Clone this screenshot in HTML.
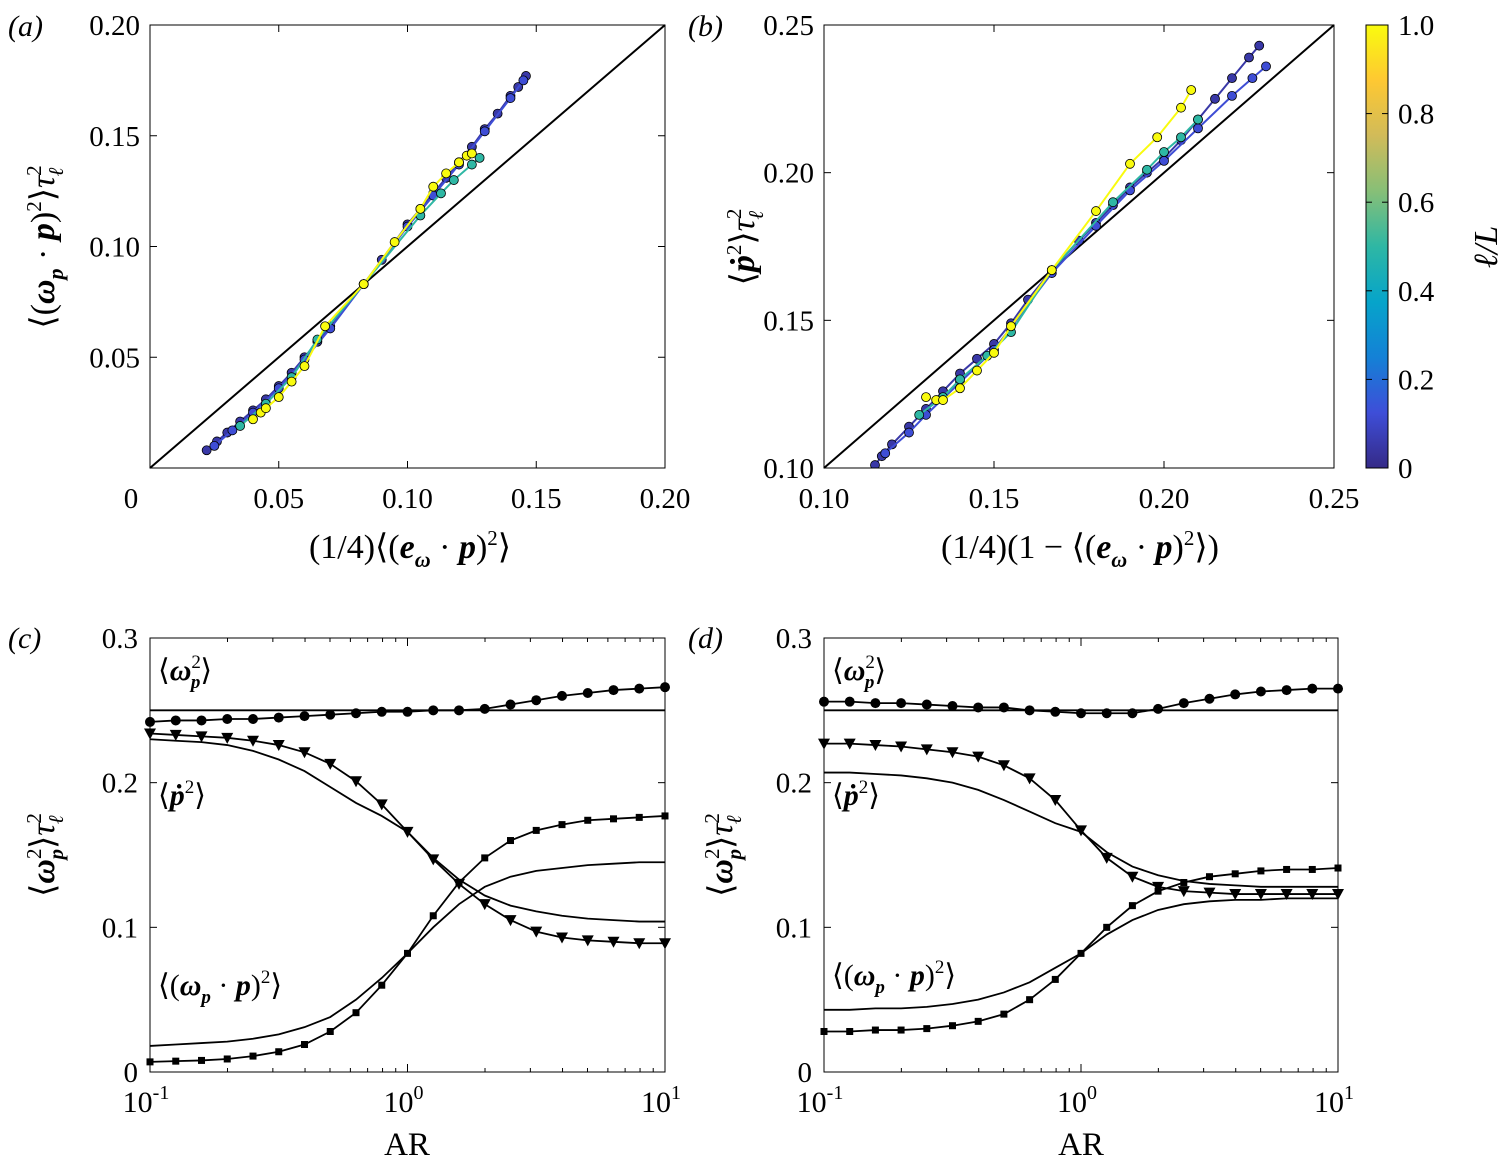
<!DOCTYPE html>
<html><head><meta charset="utf-8"><style>
body{margin:0;background:#fff}
svg{display:block;font-family:"Liberation Serif",serif}
.t{font-size:30px;fill:#000}
</style></head><body>
<svg id="c" width="1509" height="1169" viewBox="0 0 1509 1169" xmlns="http://www.w3.org/2000/svg">
<defs><linearGradient id="parula" x1="0" y1="1" x2="0" y2="0">
<stop offset="0" stop-color="#352a87"/><stop offset="0.125" stop-color="#3e4ed8"/><stop offset="0.25" stop-color="#1481d6"/><stop offset="0.375" stop-color="#06a4ca"/><stop offset="0.5" stop-color="#2eb7a4"/><stop offset="0.625" stop-color="#87bf77"/><stop offset="0.75" stop-color="#d1bb59"/><stop offset="0.875" stop-color="#fec832"/><stop offset="1" stop-color="#f9fb0e"/></linearGradient></defs>
<g class="t">
<text x="8" y="36" font-style="italic">(a)</text>
<text x="688" y="36" font-style="italic">(b)</text>
<text x="8" y="648" font-style="italic">(c)</text>
<text x="688" y="648" font-style="italic">(d)</text>
<text x="410" y="558" text-anchor="middle" font-size="34">(1/4)⟨(<tspan font-weight="bold" font-style="italic">e</tspan><tspan font-weight="bold" font-style="italic" font-size="22" dy="9">ω</tspan><tspan dy="-9"> · </tspan><tspan font-weight="bold" font-style="italic">p</tspan>)<tspan font-size="21" dy="-13">2</tspan><tspan dy="13">⟩</tspan></text>
<text x="1080" y="558" text-anchor="middle" font-size="34">(1/4)(1 − ⟨(<tspan font-weight="bold" font-style="italic">e</tspan><tspan font-weight="bold" font-style="italic" font-size="22" dy="9">ω</tspan><tspan dy="-9"> · </tspan><tspan font-weight="bold" font-style="italic">p</tspan>)<tspan font-size="21" dy="-13">2</tspan><tspan dy="13">⟩)</tspan></text>
<text transform="translate(54,247) rotate(-90)" text-anchor="middle" font-size="34">⟨(<tspan font-weight="bold" font-style="italic">ω</tspan><tspan font-weight="bold" font-style="italic" font-size="22" dy="9">p</tspan><tspan dy="-9"> · </tspan><tspan font-weight="bold" font-style="italic">p</tspan>)<tspan font-size="21" dy="-13">2</tspan><tspan dy="13">⟩</tspan><tspan font-style="italic">τ</tspan><tspan font-size="21" dy="-13">2</tspan><tspan font-size="21" font-style="italic" dx="-11" dy="22">ℓ</tspan></text>
<text transform="translate(754,247) rotate(-90)" text-anchor="middle" font-size="34">⟨<tspan font-weight="bold" font-style="italic">ṗ</tspan><tspan font-size="21" dy="-13">2</tspan><tspan dy="13">⟩</tspan><tspan font-style="italic">τ</tspan><tspan font-size="21" dy="-13">2</tspan><tspan font-size="21" font-style="italic" dx="-11" dy="22">ℓ</tspan></text>
<text transform="translate(1497,247) rotate(-90)" text-anchor="middle" font-size="34" font-style="italic">ℓ/L</text>
<text transform="translate(54,855) rotate(-90)" text-anchor="middle" font-size="34">⟨<tspan font-weight="bold" font-style="italic">ω</tspan><tspan font-size="21" dy="-13">2</tspan><tspan font-size="21" font-weight="bold" font-style="italic" dx="-11" dy="22">p</tspan><tspan dy="-9">⟩</tspan><tspan font-style="italic">τ</tspan><tspan font-size="21" dy="-13">2</tspan><tspan font-size="21" font-style="italic" dx="-11" dy="22">ℓ</tspan></text>
<text transform="translate(732,855) rotate(-90)" text-anchor="middle" font-size="34">⟨<tspan font-weight="bold" font-style="italic">ω</tspan><tspan font-size="21" dy="-13">2</tspan><tspan font-size="21" font-weight="bold" font-style="italic" dx="-11" dy="22">p</tspan><tspan dy="-9">⟩</tspan><tspan font-style="italic">τ</tspan><tspan font-size="21" dy="-13">2</tspan><tspan font-size="21" font-style="italic" dx="-11" dy="22">ℓ</tspan></text>
<text x="407" y="1155" text-anchor="middle" font-size="33">AR</text>
<text x="1081" y="1155" text-anchor="middle" font-size="33">AR</text>
</g>
<g id="plots"></g>
</svg>
<script>
const NS='http://www.w3.org/2000/svg';
const root=document.getElementById('plots');
function mk(tag,attrs,parent){const e=document.createElementNS(NS,tag);for(const k in attrs)e.setAttribute(k,attrs[k]);(parent||root).appendChild(e);return e;}
function txt(s,x,y,anchor,parent,size){const e=mk('text',{x:x,y:y,'text-anchor':anchor||'middle','font-size':size||29},parent);e.textContent=s;return e;}

// ---------- data ----------
const arValues=[0.1,0.1259,0.1585,0.1995,0.2512,0.3162,0.3981,0.5012,0.631,0.7943,1,1.259,1.585,1.995,2.512,3.162,3.981,5.012,6.31,7.943,10];
const cCircles=[0.242,0.243,0.243,0.244,0.244,0.245,0.246,0.247,0.248,0.249,0.249,0.250,0.250,0.251,0.254,0.257,0.260,0.262,0.264,0.265,0.266];
const cFlat=[0.25,0.25,0.25,0.25,0.25,0.25,0.25,0.25,0.25,0.25,0.25,0.25,0.25,0.25,0.25,0.25,0.25,0.25,0.25,0.25,0.25];
const cTriangles=[0.234,0.233,0.232,0.231,0.229,0.226,0.221,0.213,0.201,0.185,0.166,0.147,0.130,0.116,0.105,0.097,0.093,0.091,0.090,0.089,0.089];
const cTriLine=[0.230,0.229,0.228,0.226,0.222,0.216,0.208,0.197,0.186,0.177,0.166,0.148,0.133,0.122,0.115,0.111,0.108,0.106,0.105,0.104,0.104];
const cSquares=[0.007,0.0075,0.008,0.009,0.011,0.014,0.019,0.028,0.041,0.060,0.082,0.108,0.131,0.148,0.160,0.167,0.171,0.174,0.175,0.176,0.177];
const cSqLine=[0.018,0.019,0.020,0.021,0.023,0.026,0.031,0.038,0.050,0.065,0.082,0.100,0.116,0.128,0.135,0.139,0.141,0.143,0.144,0.145,0.145];
const dCircles=[0.256,0.256,0.255,0.255,0.254,0.253,0.252,0.252,0.250,0.249,0.248,0.248,0.248,0.251,0.255,0.258,0.261,0.263,0.264,0.265,0.265];
const dFlat=cFlat;
const dTriangles=[0.227,0.227,0.226,0.225,0.223,0.221,0.218,0.212,0.203,0.188,0.167,0.148,0.135,0.128,0.125,0.124,0.123,0.123,0.123,0.123,0.123];
const dTriLine=[0.207,0.207,0.206,0.205,0.203,0.200,0.195,0.188,0.180,0.172,0.166,0.152,0.142,0.136,0.132,0.130,0.129,0.128,0.128,0.128,0.128];
const dSquares=[0.028,0.028,0.029,0.029,0.030,0.032,0.035,0.040,0.050,0.064,0.082,0.100,0.115,0.125,0.131,0.135,0.137,0.139,0.140,0.140,0.141];
const dSqLine=[0.043,0.043,0.044,0.044,0.045,0.047,0.050,0.055,0.062,0.072,0.082,0.095,0.105,0.112,0.116,0.118,0.119,0.119,0.120,0.120,0.120];

const aLevels=[0.05,0.12,0.5,1.0];
const aX=[[0.022,0.026,0.03,0.035,0.04,0.045,0.05,0.055,0.06,0.065,0.07,0.083,0.09,0.10,0.105,0.11,0.115,0.12,0.125,0.13,0.135,0.14,0.143,0.146],
 [0.025,0.032,0.04,0.05,0.06,0.07,0.083,0.1,0.11,0.12,0.13,0.14,0.145],
 [0.035,0.045,0.055,0.065,0.083,0.105,0.113,0.118,0.125,0.128],
 [0.04,0.043,0.045,0.05,0.055,0.06,0.068,0.083,0.095,0.105,0.11,0.115,0.12,0.123,0.125]];
const aY=[[0.008,0.012,0.016,0.021,0.026,0.031,0.037,0.043,0.050,0.057,0.064,0.083,0.094,0.110,0.117,0.124,0.131,0.138,0.145,0.153,0.160,0.168,0.172,0.177],
 [0.010,0.017,0.025,0.036,0.049,0.063,0.083,0.109,0.123,0.137,0.152,0.167,0.175],
 [0.019,0.029,0.041,0.058,0.083,0.114,0.124,0.130,0.137,0.140],
 [0.022,0.025,0.027,0.032,0.039,0.046,0.064,0.083,0.102,0.117,0.127,0.133,0.138,0.141,0.142]];
const bLevels=[0.05,0.12,0.5,1.0];
const bX=[[0.115,0.117,0.12,0.125,0.13,0.135,0.14,0.145,0.15,0.155,0.16,0.167,0.175,0.18,0.185,0.19,0.195,0.20,0.205,0.21,0.215,0.22,0.225,0.228],
 [0.118,0.125,0.13,0.14,0.15,0.167,0.18,0.19,0.2,0.21,0.22,0.226,0.23],
 [0.128,0.135,0.14,0.148,0.155,0.167,0.185,0.195,0.2,0.205,0.21],
 [0.13,0.133,0.135,0.14,0.145,0.15,0.155,0.167,0.18,0.19,0.198,0.205,0.208]];
const bY=[[0.101,0.104,0.108,0.114,0.120,0.126,0.132,0.137,0.142,0.149,0.157,0.167,0.177,0.183,0.189,0.195,0.200,0.205,0.211,0.218,0.225,0.232,0.239,0.243],
 [0.105,0.112,0.118,0.129,0.140,0.166,0.182,0.194,0.204,0.215,0.226,0.232,0.236],
 [0.118,0.124,0.130,0.138,0.146,0.167,0.190,0.201,0.207,0.212,0.218],
 [0.124,0.123,0.123,0.127,0.133,0.139,0.148,0.167,0.187,0.203,0.212,0.222,0.228]];
const aTicks=['0','0.05','0.10','0.15','0.20'];
const bTicks=['0.10','0.15','0.20','0.25'];
const cbTicks=['0','0.2','0.4','0.6','0.8','1.0'];
const cdTicks=['0','0.1','0.2','0.3'];

const cmap=[[53,42,135],[62,78,216],[20,129,214],[6,164,202],[46,183,164],[135,191,119],[209,187,89],[254,200,50],[249,251,14]];
function col(v){const t=Math.max(0,Math.min(1,v))*8,i=Math.min(7,Math.floor(t)),f=t-i;const a=cmap[i],b=cmap[i+1];return 'rgb('+a.map((c,k)=>Math.round(c+(b[k]-c)*f)).join(',')+')';}

function box(x0,y0,x1,y1,name){const r=mk('rect',{x:x0,y:y0,width:x1-x0,height:y1-y0,fill:'none',stroke:'#000','stroke-width':1});}

function scatter(name,X0,X1,Y0,Y1,xmin,xmax,ymin,ymax,xs,ys,levels,ticks,tickVals,diag){
  const g=mk('g',{});
  const sx=v=>X0+(v-xmin)/(xmax-xmin)*(X1-X0), sy=v=>Y1-(v-ymin)/(ymax-ymin)*(Y1-Y0);
  const clip=mk('clipPath',{id:'cl'+name},g);mk('rect',{x:X0,y:Y0,width:X1-X0,height:Y1-Y0},clip);
  const d=mk('line',{x1:sx(diag[0]),y1:sy(diag[0]),x2:sx(diag[1]),y2:sy(diag[1]),stroke:'#000','stroke-width':2},g);
  
  const pg=mk('g',{'clip-path':'url(#cl'+name+')'},g);
  xs.forEach((xa,s)=>{const c=col(levels[s]);
    const pl=mk('polyline',{points:xa.map((x,i)=>sx(x)+','+sy(ys[s][i])).join(' '),fill:'none',stroke:c,'stroke-width':2},pg);
    
    xa.forEach((x,i)=>{const p=mk('circle',{cx:sx(x),cy:sy(ys[s][i]),r:4.5,fill:c,stroke:'#000','stroke-width':0.8},pg);
      });
  });
  ticks.forEach((t,i)=>{const v=tickVals[i];
    mk('line',{x1:sx(v),y1:Y1,x2:sx(v),y2:Y1-7,stroke:'#000'},g);mk('line',{x1:sx(v),y1:Y0,x2:sx(v),y2:Y0+7,stroke:'#000'},g);
    mk('line',{x1:X0,y1:sy(v),x2:X0+7,y2:sy(v),stroke:'#000'},g);mk('line',{x1:X1,y1:sy(v),x2:X1-7,y2:sy(v),stroke:'#000'},g);
    const xl=txt(t,sx(v)+(i==0&&name=='panel-a'?-19:0),Y1+40,'middle',g);
    if(!(i==0&&name=='panel-a')){const yl=txt(t,X0-10,sy(v)+10,'end',g);}
  });
  box(X0,Y0,X1,Y1,name+'-frame');
}
scatter('panel-a',150,665,25,468,0,0.2,0,0.2,aX,aY,aLevels,aTicks,[0,0.05,0.1,0.15,0.2],[0,0.2]);
scatter('panel-b',824,1334,25,468,0.1,0.25,0.1,0.25,bX,bY,bLevels,bTicks,[0.1,0.15,0.2,0.25],[0.1,0.25]);

const cb=mk('rect',{x:1366,y:25,width:22,height:443,fill:'url(#parula)',stroke:'#000','stroke-width':1});

cbTicks.forEach((t,i)=>{const y=468-i*443/5;mk('line',{x1:1388,y1:y,x2:1382,y2:y,stroke:'#000'});mk('line',{x1:1366,y1:y,x2:1372,y2:y,stroke:'#000'});
  const l=txt(t,1398,y+10,'start');});

function arPanel(name,X0,X1,series,labels){
  const Y0=638,Y1=1072;
  const g=mk('g',{});
  const sx=v=>X0+(Math.log10(v)+1)/2*(X1-X0), sy=v=>Y1-v/0.3*(Y1-Y0);
  series.forEach(s=>{
    const pl=mk('polyline',{points:arValues.map((a,i)=>sx(a)+','+sy(s.v[i])).join(' '),fill:'none',stroke:'#000','stroke-width':1.8},g);
    
    if(s.m) arValues.forEach((a,i)=>{const x=sx(a),y=sy(s.v[i]);let e;
      if(s.m=='o')e=mk('circle',{cx:x,cy:y,r:5},g);
      else if(s.m=='s')e=mk('rect',{x:x-3.5,y:y-3.5,width:7,height:7},g);
      else e=mk('polygon',{points:(x-6)+','+(y-5)+' '+(x+6)+','+(y-5)+' '+x+','+(y+6)},g);
      });
  });
  cdTicks.forEach((t,i)=>{const y=sy(i*0.1);mk('line',{x1:X0,y1:y,x2:X0+7,y2:y,stroke:'#000'},g);mk('line',{x1:X1,y1:y,x2:X1-7,y2:y,stroke:'#000'},g);
    const l=txt(t,X0-12,y+10,'end',g);});
  for(let d=-1;d<=1;d++){for(let k=1;k<10;k++){const v=Math.pow(10,d)*k;if(v>10)break;const x=sx(v),len=k==1?8:4;
      mk('line',{x1:x,y1:Y1,x2:x,y2:Y1-len,stroke:'#000'},g);mk('line',{x1:x,y1:Y0,x2:x,y2:Y0+len,stroke:'#000'},g);}
    const x=sx(Math.pow(10,d));const l=mk('text',{x:x-4,y:Y1+40,'text-anchor':'middle','font-size':30},g);l.innerHTML='10<tspan font-size="20" dy="-13">'+d+'</tspan>';
    }
  box(X0,Y0,X1,Y1,name+'-frame');
  labels.forEach(L=>{const e=mk('text',{x:X0+8,y:L[1],'font-size':30},g);e.innerHTML=L[0];});
}
const lab=(y1,y2,y3)=>[
 ['⟨<tspan font-weight="bold" font-style="italic">ω</tspan><tspan font-size="19" dy="-12">2</tspan><tspan font-size="19" font-weight="bold" font-style="italic" dx="-10" dy="20">p</tspan><tspan dy="-8">⟩</tspan>',y1,'label-omega-p'],
 ['⟨<tspan font-weight="bold" font-style="italic">ṗ</tspan><tspan font-size="19" dy="-12">2</tspan><tspan dy="12">⟩</tspan>',y2,'label-pdot'],
 ['⟨(<tspan font-weight="bold" font-style="italic">ω</tspan><tspan font-size="19" font-weight="bold" font-style="italic" dy="8">p</tspan><tspan dy="-8"> · </tspan><tspan font-weight="bold" font-style="italic">p</tspan>)<tspan font-size="19" dy="-12">2</tspan><tspan dy="12">⟩</tspan>',y3,'label-omega-dot-p']];
arPanel('panel-c',150,665,[{n:'omega-p-series',v:cCircles,m:'o'},{n:'omega-p-model',v:cFlat},{n:'pdot-series',v:cTriangles,m:'v'},{n:'pdot-model',v:cTriLine},{n:'omega-dot-p-series',v:cSquares,m:'s'},{n:'omega-dot-p-model',v:cSqLine}],lab(680,805,995));
arPanel('panel-d',824,1338,[{n:'omega-p-series',v:dCircles,m:'o'},{n:'omega-p-model',v:dFlat},{n:'pdot-series',v:dTriangles,m:'v'},{n:'pdot-model',v:dTriLine},{n:'omega-dot-p-series',v:dSquares,m:'s'},{n:'omega-dot-p-model',v:dSqLine}],lab(680,805,985));
</script>
</body></html>
